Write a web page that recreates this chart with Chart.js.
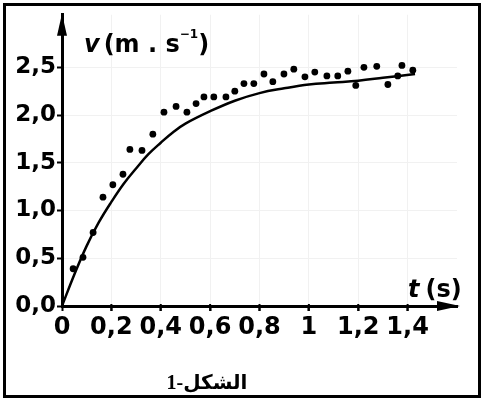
<!DOCTYPE html>
<html>
<head>
<meta charset="utf-8">
<script src="https://cdn.jsdelivr.net/npm/chart.js@4.4.0/dist/chart.umd.min.js"></script>
<style>
  body { margin: 0; background: #fff; }
  canvas { display: block; }
</style>
</head>
<body>
<canvas id="chart" width="482" height="403"></canvas>
<script>
// measured points (t in s, v in m/s)
const pointTimes = [0.045, 0.085, 0.126, 0.166, 0.206, 0.247, 0.275, 0.324, 0.368, 0.413,
    0.462, 0.506, 0.543, 0.575, 0.615, 0.664, 0.70, 0.737, 0.777, 0.818,
    0.854, 0.899, 0.939, 0.984, 1.024, 1.073, 1.117, 1.158, 1.19, 1.223,
    1.275, 1.32, 1.36, 1.377, 1.421];
const pointSpeeds = [0.39, 0.51, 0.77, 1.14, 1.27, 1.38, 1.64, 1.63, 1.80, 2.03,
    2.09, 2.03, 2.12, 2.19, 2.19, 2.19, 2.25, 2.33, 2.33, 2.43,
    2.35, 2.43, 2.48, 2.40, 2.45, 2.41, 2.41, 2.46, 2.31, 2.50,
    2.51, 2.32, 2.41, 2.52, 2.47];

// fitted curve
const curveTimes = [0, 0.05, 0.1, 0.15, 0.2, 0.25, 0.3, 0.35, 0.4, 0.45, 0.5, 0.6, 0.7, 0.8, 0.9, 1.0, 1.1, 1.2, 1.3, 1.43];
const curveSpeeds = [0, 0.33, 0.63, 0.88, 1.09, 1.28, 1.44, 1.59, 1.71, 1.82, 1.91, 2.04, 2.15, 2.23, 2.28, 2.32, 2.34, 2.36, 2.39, 2.43];

const xTicks = [0, 0.2, 0.4, 0.6, 0.8, 1, 1.2, 1.4];
const yTicks = [0, 0.5, 1.0, 1.5, 2.0, 2.5];

function commaLabel(v, digits) {
    return v.toFixed(digits).replace('.', ',');
}

const decorations = {
    id: 'decorations',
    afterDraw(chart) {
        const ctx = chart.ctx;
        const xs = chart.scales.x;
        const ys = chart.scales.y;
        const x0 = xs.getPixelForValue(0);
        const y0 = ys.getPixelForValue(0);
        const top = chart.chartArea.top;
        const right = chart.chartArea.right;

        ctx.save();
        ctx.fillStyle = '#000';
        // arrow heads
        ctx.beginPath();
        ctx.moveTo(x0, top - 1);
        ctx.lineTo(x0 - 5, top + 21);
        ctx.lineTo(x0 + 5, top + 21);
        ctx.closePath();
        ctx.fill();
        ctx.beginPath();
        ctx.moveTo(right + 3, y0);
        ctx.lineTo(right - 20, y0 - 5);
        ctx.lineTo(right - 20, y0 + 5);
        ctx.closePath();
        ctx.fill();

        // small tick marks
        ctx.lineWidth = 2;
        ctx.strokeStyle = '#000';
        xTicks.slice(1).forEach(t => {
            const px = xs.getPixelForValue(t);
            ctx.beginPath();
            ctx.moveTo(px, y0 - 2);
            ctx.lineTo(px, y0 + 5);
            ctx.stroke();
        });

        // axis titles
        ctx.textBaseline = 'alphabetic';
        let x = 84;
        ctx.font = 'italic bold 24px "DejaVu Sans"';
        ctx.fillText('v', x, 52);
        x += ctx.measureText('v').width + 4;
        ctx.font = 'bold 24px "DejaVu Sans"';
        ctx.fillText('(m . s', x, 52);
        x += ctx.measureText('(m . s').width;
        ctx.font = 'bold 12px "DejaVu Sans"';
        ctx.fillText('−1', x, 38);
        x += ctx.measureText('−1').width;
        ctx.font = 'bold 24px "DejaVu Sans"';
        ctx.fillText(')', x, 52);

        x = 408;
        ctx.font = 'italic bold 24px "DejaVu Sans"';
        ctx.fillText('t', x, 297);
        x += ctx.measureText('t').width + 6;
        ctx.font = 'bold 24px "DejaVu Sans"';
        ctx.fillText('(s)', x, 297);

        // caption
        ctx.font = 'bold 20px "Liberation Serif", "DejaVu Sans"';
        ctx.direction = 'rtl';
        ctx.textAlign = 'center';
        ctx.fillText('الشكل-1', 207, 389);

        // frame
        ctx.direction = 'ltr';
        ctx.lineWidth = 3;
        ctx.strokeStyle = '#000';
        ctx.strokeRect(4.5, 4.5, 475, 392);
        ctx.restore();
    }
};

new Chart(document.getElementById('chart'), {
    type: 'scatter',
    data: {
        datasets: [
            {
                label: 'curve',
                data: curveTimes.map((t, i) => ({ x: t, y: curveSpeeds[i] })),
                showLine: true,
                borderColor: '#000',
                borderWidth: 2.5,
                pointRadius: 0,
                tension: 0.4
            },
            {
                label: 'points',
                data: pointTimes.map((t, i) => ({ x: t, y: pointSpeeds[i] })),
                backgroundColor: '#000',
                borderColor: '#000',
                pointRadius: 3.4,
                pointBorderWidth: 0
            }
        ]
    },
    options: {
        responsive: false,
        animation: false,
        layout: { padding: { left: 0, top: 14, right: 25, bottom: 52 } },
        plugins: { legend: { display: false }, tooltip: { enabled: false } },
        scales: {
            x: {
                type: 'linear',
                min: 0,
                max: 1.6,
                afterFit: (scale) => { scale.height = 45; },
                afterBuildTicks: (scale) => { scale.ticks = xTicks.map(v => ({ value: v })); },
                grid: { color: '#f1f1f1', tickColor: '#000', tickLength: 5, tickWidth: 2, lineWidth: 1 },
                border: { color: '#000', width: 3 },
                ticks: {
                    color: '#000',
                    padding: 2,
                    maxRotation: 0,
                    font: { family: 'DejaVu Sans', size: 24, weight: 'bold' },
                    callback: (v) => (Number.isInteger(v) ? String(v) : commaLabel(v, 1))
                }
            },
            y: {
                type: 'linear',
                min: 0,
                max: 3.05,
                afterFit: (scale) => { scale.width = 62; },
                afterBuildTicks: (scale) => { scale.ticks = yTicks.map(v => ({ value: v })); },
                grid: { color: '#f1f1f1', tickColor: '#000', tickLength: 5, tickWidth: 2, lineWidth: 1 },
                border: { color: '#000', width: 3 },
                ticks: {
                    color: '#000',
                    padding: 1,
                    font: { family: 'DejaVu Sans', size: 23, weight: 'bold' },
                    callback: (v) => commaLabel(v, 1)
                }
            }
        }
    },
    plugins: [decorations]
});
</script>
</body>
</html>
